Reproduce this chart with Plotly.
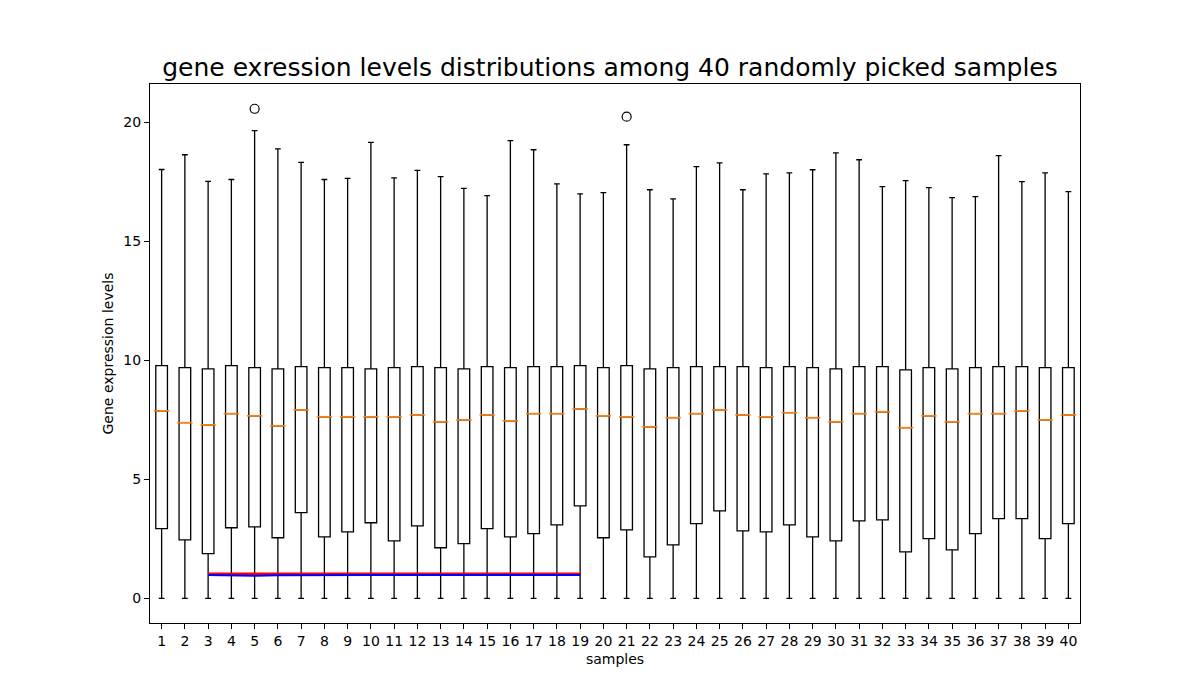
import plotly.graph_objects as go

# per-sample box statistics (samples 1..40)
samples = list(range(1, 41))
q1 = [2.93, 2.46, 1.88, 2.97, 3.01, 2.55, 3.60, 2.59, 2.80, 3.18,
      2.42, 3.05, 2.13, 2.30, 2.93, 2.59, 2.72, 3.09, 3.89, 2.55,
      2.88, 1.75, 2.25, 3.14, 3.68, 2.84, 2.80, 3.09, 2.59, 2.42,
      3.26, 3.30, 1.96, 2.51, 2.04, 2.72, 3.35, 3.35, 2.51, 3.14]
median = [7.88, 7.38, 7.29, 7.76, 7.67, 7.25, 7.92, 7.63, 7.63, 7.63,
          7.63, 7.71, 7.42, 7.50, 7.71, 7.46, 7.76, 7.76, 7.96, 7.67,
          7.63, 7.21, 7.59, 7.76, 7.92, 7.71, 7.63, 7.80, 7.59, 7.42,
          7.76, 7.84, 7.17, 7.67, 7.42, 7.76, 7.76, 7.88, 7.50, 7.71]
q3 = [9.78, 9.69, 9.64, 9.78, 9.69, 9.64, 9.73, 9.69, 9.69, 9.64,
      9.69, 9.73, 9.69, 9.64, 9.73, 9.69, 9.73, 9.73, 9.78, 9.69,
      9.78, 9.64, 9.69, 9.73, 9.73, 9.73, 9.69, 9.73, 9.69, 9.64,
      9.73, 9.73, 9.60, 9.69, 9.64, 9.69, 9.73, 9.73, 9.69, 9.69]
lower = [0.0] * 40
upper = [18.01, 18.63, 17.51, 17.59, 19.64, 18.88, 18.31, 17.59, 17.64, 19.15,
         17.66, 17.97, 17.71, 17.22, 16.91, 19.22, 18.84, 17.41, 16.99, 17.04,
         19.05, 17.16, 16.78, 18.13, 18.29, 17.16, 17.83, 17.87, 18.00, 18.71,
         18.42, 17.29, 17.54, 17.25, 16.83, 16.87, 18.59, 17.50, 17.87, 17.08]

outlier_x = [5, 21]
outlier_y = [20.56, 20.23]

# the two overlaid lines near y = 1 (samples 3..19)
line_x = list(range(3, 20))
red_y = [1.03] * 17
blue_y = [0.99, 0.98, 0.95, 0.98, 0.99, 0.99, 0.99, 0.99, 0.99,
          0.99, 0.99, 0.99, 0.99, 0.99, 0.99, 0.99, 0.99]

title = "gene exression levels distributions among 40 randomly picked samples"
font = "DejaVu Sans"

fig = go.Figure()
fig.add_trace(
    go.Box(
        x=samples,
        q1=q1,
        median=median,
        q3=q3,
        lowerfence=lower,
        upperfence=upper,
        width=0.5,
        whiskerwidth=0.5,
        fillcolor="rgba(0,0,0,0)",
        line=dict(color="black", width=1.3),
        showlegend=False,
    )
)
fig.add_trace(
    go.Scatter(
        x=samples,
        y=median,
        mode="markers",
        marker=dict(symbol="line-ew", size=11, line=dict(color="#ff7f0e", width=1.6)),
        showlegend=False,
    )
)
fig.add_trace(
    go.Scatter(
        x=outlier_x,
        y=outlier_y,
        mode="markers",
        marker=dict(symbol="circle-open", size=9, color="black", line=dict(width=1.2)),
        showlegend=False,
    )
)
fig.add_trace(
    go.Scatter(x=line_x, y=red_y, mode="lines", line=dict(color="red", width=3), showlegend=False)
)
fig.add_trace(
    go.Scatter(x=line_x, y=blue_y, mode="lines", line=dict(color="blue", width=2), showlegend=False)
)

axis_style = dict(
    showline=True,
    linecolor="black",
    linewidth=1,
    mirror=True,
    ticks="outside",
    ticklen=5,
    tickcolor="black",
    showgrid=False,
    zeroline=False,
    tickfont=dict(family=font, size=14, color="black"),
)

fig.update_layout(
    width=1200,
    height=700,
    margin=dict(l=142, r=128, t=76, b=85),
    paper_bgcolor="white",
    plot_bgcolor="white",
    font=dict(family=font, color="black"),
    title=dict(
        text=title,
        font=dict(family=font, size=25, color="black"),
        x=0.4946,
        xref="paper",
        xanchor="center",
        y=1,
        yref="paper",
        yanchor="bottom",
        pad=dict(b=8),
    ),
    xaxis=dict(
        axis_style,
        range=[0.5, 40.5],
        tickmode="array",
        tickvals=samples,
        ticktext=[str(s) for s in samples],
        title=dict(text="samples", font=dict(family=font, size=14), standoff=6),
    ),
    yaxis=dict(
        axis_style,
        range=[-1.03, 21.6],
        tickvals=[0, 5, 10, 15, 20],
        title=dict(text="Gene expression levels", font=dict(family=font, size=14), standoff=6),
    ),
)

fig.write_html("out.html")
